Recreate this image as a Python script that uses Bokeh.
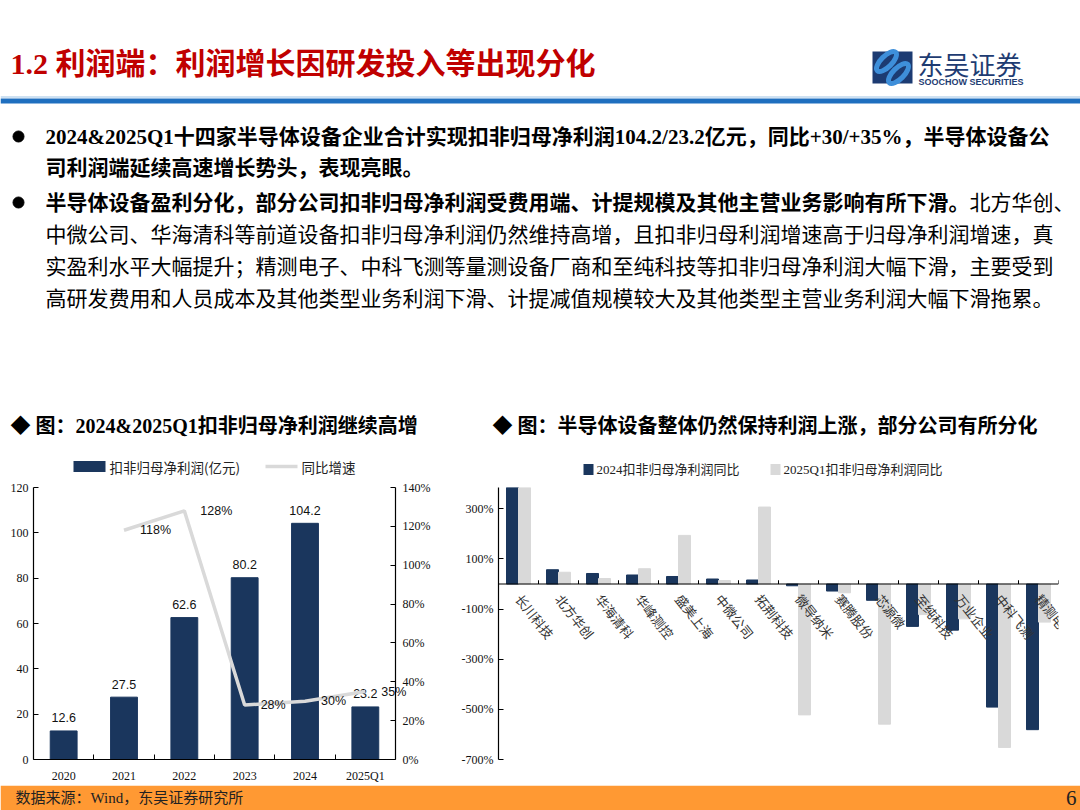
import math
from bokeh.plotting import figure
from bokeh.layouts import column, row
from bokeh.models import (Range1d, LinearAxis, FixedTicker, PrintfTickFormatter,
                          Span, ColumnDataSource, LabelSet, Label)
from bokeh.transform import dodge
from bokeh.core.properties import value
from bokeh.embed import file_html
from bokeh.resources import INLINE

SERIF = "Liberation Serif, Noto Sans CJK SC"
CJK = "Noto Sans CJK SC"
NAVY = "#1A365D"
GRAY = "#D9D9D9"

# ---------------- data ----------------
years = ["2020", "2021", "2022", "2023", "2024", "2025Q1"]
profit = [12.6, 27.5, 62.6, 80.2, 104.2, 23.2]
growth_years = ["2021", "2022", "2023", "2024", "2025Q1"]
growth = [118, 128, 28, 30, 35]
left_series = ["扣非归母净利润(亿元)", "同比增速"]

companies = ["长川科技", "北方华创", "华海清科", "华峰测控", "盛美上海", "中微公司", "拓荆科技",
             "微导纳米", "赛腾股份", "芯源微", "至纯科技", "万业企业", "中科飞测", "精测电子"]
yoy_2024 = [900, 57, 42, 36, 30, 20, 16, -7, -28, -65, -169, -184, -491, -581]
yoy_2025q1 = [600, 47, 22, 61, 194, 14, 307, -522, -35, -559, -122, -139, -652, -152]
right_series = ["2024扣非归母净利润同比", "2025Q1扣非归母净利润同比"]

left_ticks = [0, 20, 40, 60, 80, 100, 120]
right_ticks = [0, 20, 40, 60, 80, 100, 120, 140]
yoy_ticks = [-700, -500, -300, -100, 100, 300]


def base_fig(w, h, **kw):
    p = figure(width=w, height=h, output_backend="svg", toolbar_location=None, **kw)
    p.outline_line_color = None
    p.background_fill_color = "white"
    p.border_fill_color = "white"
    return p


def plain_fig(w, h):
    p = base_fig(w, h, x_range=Range1d(0, w), y_range=Range1d(h, 0),
                 min_border=0, min_border_left=0, min_border_right=0, min_border_top=0, min_border_bottom=0)
    p.axis.visible = False
    p.grid.visible = False
    return p


# ---------------- header ----------------
HW, HH = 1080, 478
hp = plain_fig(HW, HH)


def T(p, x, y, s, size, bold=False, color="#000000", font=SERIF, align="left", baseline="middle", oy=0):
    p.text(x=[x], y=[y - oy], text=[s], text_font=value(font), text_font_size=f"{size}px",
           text_font_style="bold" if bold else "normal", text_color=color,
           text_align=align, text_baseline=baseline)


T(hp, 10, 63, "1.2 利润端：利润增长因研发投入等出现分化", 30, bold=True, color="#C00000")

# logo
hp.rect(x=[892], y=[67], width=40, height=32, fill_color="#1C3B72", line_color=None)
hp.ellipse(x=[886, 898], y=[61, 73], width=26, height=11, angle=[math.pi / 4, math.pi / 4],
           fill_color=None, line_color="#3E8FDA", line_width=5)
T(hp, 917, 63, "东吴证券", 26, color="#1E3C72", font=CJK)
T(hp, 918, 81, "SOOCHOW SECURITIES", 9, bold=True, color="#1E3C72", font="Liberation Sans")

# blue rule
hp.rect(x=[540], y=[96.5], width=1080, height=1, fill_color="#9DC3E6", line_color=None)
hp.rect(x=[540], y=[100.5], width=1080, height=5, fill_color="#1F6FBF", line_color=None)

# bullets
hp.scatter(x=[18, 18], y=[136, 202], size=11, color="#000000")
FS = 21
T(hp, 45, 136, "2024&2025Q1十四家半导体设备企业合计实现扣非归母净利润104.2/23.2亿元，同比+30/+35%，半导体设备公", FS, bold=True)
T(hp, 45, 167, "司利润端延续高速增长势头，表现亮眼。", FS, bold=True)
T(hp, 45, 202, "半导体设备盈利分化，部分公司扣非归母净利润受费用端、计提规模及其他主营业务影响有所下滑。", FS, bold=True)
T(hp, 45 + 44 * FS, 202, "北方华创、", FS)
T(hp, 45, 234, "中微公司、华海清科等前道设备扣非归母净利润仍然维持高增，且扣非归母利润增速高于归母净利润增速，真", FS)
T(hp, 45, 266, "实盈利水平大幅提升；精测电子、中科飞测等量测设备厂商和至纯科技等扣非归母净利润大幅下滑，主要受到", FS)
T(hp, 45, 298, "高研发费用和人员成本及其他类型业务利润下滑、计提减值规模较大及其他类型主营业务利润大幅下滑拖累。", FS)

# chart titles
T(hp, 10, 425, "◆ 图：2024&2025Q1扣非归母净利润继续高增", 20, bold=True)
T(hp, 492, 425, "◆ 图：半导体设备整体仍然保持利润上涨，部分公司有所分化", 20, bold=True)

# legends (drawn in the header band that sits above both chart frames)
hp.rect(x=[89], y=[466], width=32, height=11, fill_color=NAVY, line_color=None)
T(hp, 109, 466, left_series[0], 13.5, color="#222222", font=CJK)
hp.line(x=[265, 297], y=[466, 466], line_color=GRAY, line_width=3.5)
T(hp, 301, 466, left_series[1], 13.5, color="#222222", font=CJK)

hp.rect(x=[588], y=[469], width=10, height=11, fill_color=NAVY, line_color=None)
T(hp, 596, 469, right_series[0], 13, color="#222222")
hp.rect(x=[775], y=[469], width=10, height=11, fill_color=GRAY, line_color=None)
T(hp, 783, 469, right_series[1], 13, color="#222222")

CH = 785 - HH  # chart row height
LW = 458       # left chart width; right chart takes the rest

# ---------------- left chart ----------------
lp = base_fig(LW, CH, x_range=Range1d(0, len(years)), y_range=Range1d(0, 120),
              min_border_left=33, min_border_right=LW - 397, min_border_top=483 - HH, min_border_bottom=26)
lp.grid.visible = False
lp.extra_y_ranges = {"pct": Range1d(0, 140)}
raxis = LinearAxis(y_range_name="pct")
lp.add_layout(raxis, "right")

xs = [i + 0.5 for i in range(len(years))]
gx = [years.index(y) + 0.5 for y in growth_years]
bars = lp.vbar(x=xs, top=profit, width=0.445, fill_color=NAVY, line_color=NAVY)
lp.text(x=xs, y=profit, text=[f"{v:.1f}" for v in profit], text_align="center", text_baseline="middle",
        y_offset=-13, text_font=value("Liberation Sans"), text_font_size="12.5px", text_color="#111111")
gline = lp.line(x=gx, y=growth, y_range_name="pct", line_color=GRAY, line_width=3.5)
gsrc = ColumnDataSource(dict(x=gx[:-1], y=growth[:-1], t=[f"{g}%" for g in growth[:-1]]))
lp.add_layout(LabelSet(x="x", y="y", text="t", source=gsrc, y_range_name="pct", x_offset=16, y_offset=0,
                       text_align="left", text_baseline="middle", text_font=value("Liberation Sans"),
                       text_font_size=value("12.5px"), text_color=value("#111111")))
# last point label crosses the right axis in the original, so it lives in the side panel (not clipped)
lp.add_layout(Label(x=gx[-1], y=growth[-1], y_range_name="pct", text=f"{growth[-1]}%", x_offset=16,
                    text_align="left", text_baseline="middle", text_font="Liberation Sans",
                    text_font_size="12.5px", text_color="#111111"), "right")

for ax in [lp.left[0], raxis, lp.below[0]]:
    ax.axis_line_color = "#000000"
    ax.axis_line_width = 1.2
    ax.major_tick_line_color = "#000000"
    ax.minor_tick_line_color = "#000000"
    ax.major_label_text_font = SERIF
    ax.major_label_text_font_size = "12px"
    ax.major_label_text_color = "#111111"
    ax.major_tick_in = 5
    ax.major_tick_out = 0
    ax.minor_tick_in = 0
    ax.minor_tick_out = 0

lp.left[0].ticker = FixedTicker(ticks=left_ticks)
lp.left[0].major_label_standoff = 5
raxis.ticker = FixedTicker(ticks=right_ticks)
raxis.formatter = PrintfTickFormatter(format="%d%%")
raxis.major_label_standoff = 7
xa = lp.below[0]
xa.ticker = FixedTicker(ticks=xs, minor_ticks=list(range(1, len(years))))
xa.major_label_overrides = {x: y for x, y in zip(xs, years)}
xa.major_tick_in = 0
xa.minor_tick_in = 5
xa.minor_tick_out = 0
xa.major_label_standoff = 9

# ---------------- right chart ----------------
n = len(companies)
rp = base_fig(1080 - LW, CH, x_range=Range1d(0, n), y_range=Range1d(-700, 385),
              min_border_left=498 - LW, min_border_right=22, min_border_top=487 - HH, min_border_bottom=5)
rp.grid.visible = False
rp.xaxis.visible = False
src = ColumnDataSource(dict(x=[i + 0.5 for i in range(n)], a=yoy_2024, b=yoy_2025q1, name=companies,
                            zero=[0] * n))
b1 = rp.vbar(x=dodge("x", -0.15, range=rp.x_range), top="a", width=0.3, source=src,
             fill_color=NAVY, line_color=NAVY)
b2 = rp.vbar(x=dodge("x", 0.15, range=rp.x_range), top="b", width=0.3, source=src,
             fill_color=GRAY, line_color=GRAY)
rp.add_layout(Span(location=0, dimension="width", line_color="#000000", line_width=1.2))
bounds = list(range(1, n + 1))
rp.segment(x0=bounds, y0=[0] * n, x1=bounds, y1=[15] * n, line_color="#000000", line_width=1)
rp.text(x="x", y="zero", text="name", source=src, angle=-0.9, text_align="left", text_baseline="middle",
        x_offset=0, y_offset=12, text_font=value(CJK), text_font_size="13px", text_color="#333333")

ya = rp.left[0]
ya.ticker = FixedTicker(ticks=yoy_ticks)
ya.formatter = PrintfTickFormatter(format="%d%%")
ya.axis_line_color = "#000000"
ya.axis_line_width = 1.2
ya.major_tick_line_color = "#000000"
ya.major_tick_in = 5
ya.major_tick_out = 0
ya.minor_tick_in = 0
ya.minor_tick_out = 0
ya.major_label_standoff = 5
ya.major_label_text_font = SERIF
ya.major_label_text_font_size = "12px"
ya.major_label_text_color = "#111111"

# ---------------- footer ----------------
fp = plain_fig(1080, 25)
fp.rect(x=[540], y=[12.5], width=1080, height=25, fill_color="#FF9933", line_color=None)
T(fp, 15, 797, "数据来源：Wind，东吴证券研究所", 15, color="#222222", oy=785)
T(fp, 1076, 797, "6", 21, color="#222222", align="right", oy=785)

layout = column(hp, row(lp, rp), fp)
open("out.html", "w").write(file_html(layout, INLINE))
